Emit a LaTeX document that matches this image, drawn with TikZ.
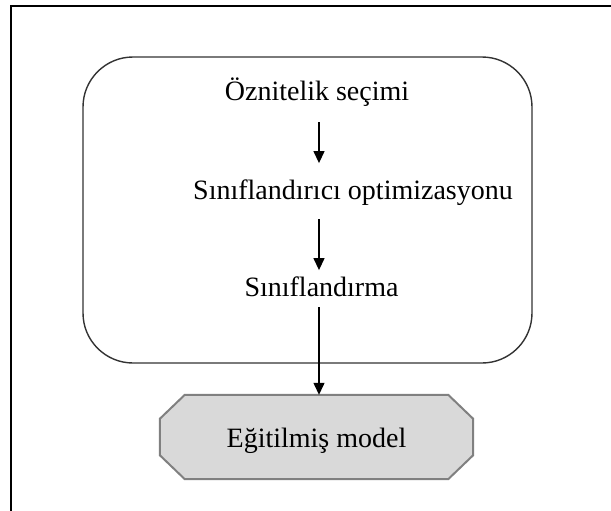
\documentclass[tikz,border=0pt]{standalone}
\usepackage{fontspec}
\setmainfont{Liberation Serif}
\usetikzlibrary{arrows.meta}

\tikzset{
  lbl/.style={font=\fontsize{28}{30}\selectfont, inner sep=0pt, anchor=base},
  arr/.style={-{Triangle[length=12pt,width=11pt]}, line width=1.3pt},
}

\begin{document}
\begin{tikzpicture}[x=1pt,y=-1pt]
        \useasboundingbox (0,0) rectangle (611,511) ;
        % frame round the page
        \draw[line width=2pt] (11,511) |- (611,6) ;
        \node[draw=black!80,line width=1.4pt,rounded corners=50pt,
          minimum width=449pt,minimum height=306pt] (stage) at (307.5,210) {} ;
        \coordinate (ax) at (319,0) ;
        \node[lbl] (sec) at (317,100) {Öznitelik seçimi} ;
        \node[lbl] (opt) at (353,199) {Sınıflandırıcı optimizasyonu} ;
        \node[lbl] (cls) at (321.5,296) {Sınıflandırma} ;
        % octagon for the model
        \node[minimum width=313pt,minimum height=84pt,inner sep=0pt] (model) at (316.5,437) {} ;
        \draw[draw=gray,fill=gray!30,line width=2pt]
          ([xshift=25pt]model.north west) -- ([xshift=-25pt]model.north east)
          -- ([yshift=-24pt]model.north east) -- ([yshift=24pt]model.south east)
          -- ([xshift=-25pt]model.south east) -- ([xshift=25pt]model.south west)
          -- ([yshift=24pt]model.south west) -- ([yshift=-24pt]model.north west) -- cycle ;
        \node[lbl] at (316.5,447) {Eğitilmiş model} ;
        \draw[arr,shorten <=16pt,shorten >=16pt] (sec.south -| ax) -- (opt.north -| ax) ;
        \draw[arr,shorten <=14pt,shorten >=6pt] (opt.south -| ax) -- (cls.north -| ax) ;
        \draw[arr,shorten <=11pt] (cls.south -| ax) -- (model.north -| ax) ;
      \end{tikzpicture}
\end{document}
